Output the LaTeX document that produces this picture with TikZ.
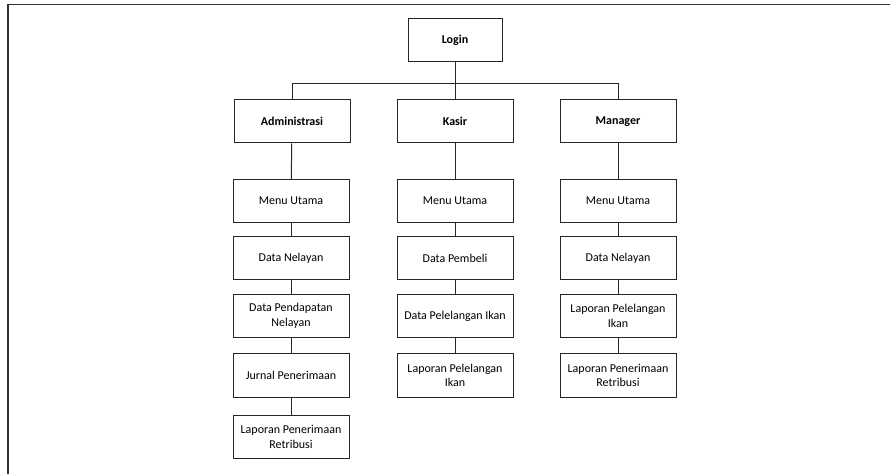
\documentclass[tikz,border=0pt]{standalone}
\usepackage{fontspec}
\setmainfont{Carlito}
\usetikzlibrary{positioning}

\begin{document}
\begin{tikzpicture}[
    x=0.75pt, y=0.75pt,
    every node/.style={font=\fontsize{9}{11}\selectfont},
    line width=0.75pt,
    menubox/.style={
        draw=black!85,
        minimum width=87pt,
        minimum height=32.25pt,
        align=center,
        inner sep=1pt
    },
    rolebox/.style={
        menubox,
        font=\fontsize{9}{11}\selectfont\bfseries
    },
    link/.style={draw=black!85}
]

\useasboundingbox (0,0) rectangle (890,-474);

% --- frame of the page ---
\draw[line width=1.1pt, black!80] (8,-474) -- (8,-4.5) -- (890,-4.5);

% --- login and roles ---
\node[rolebox, minimum width=70.5pt] (login) at (455,-40.5) {Login};
\node[rolebox] (admin) at (292,-121.5) {Administrasi};
\node[rolebox] (kasir) at (455,-121.5) {Kasir};
\node[rolebox] (manager) at (618,-121.5) {Manager};

\coordinate (bus) at (455,-83.5);
\draw[link] (login) -- (kasir);
\draw[link] (admin) |- (bus) -| (manager);

% --- kolom administrasi ---
\node[menubox] (adm1) at (291,-201) {Menu Utama};
\node[menubox] (adm2) at (291,-258.5) {Data Nelayan};
\node[menubox] (adm3) at (291,-316) {Data Pendapatan\\Nelayan};
\node[menubox] (adm4) at (291,-375.5) {Jurnal Penerimaan};
\node[menubox] (adm5) at (291,-437) {Laporan Penerimaan\\Retribusi};

\draw[link] (admin) -- (adm1);
\draw[link] (adm1) -- (adm2);
\draw[link] (adm2) -- (adm3);
\draw[link] (adm3) -- (adm4);
\draw[link] (adm4) -- (adm5);

% --- kolom kasir ---
\node[menubox] (ksr1) at (455,-201) {Menu Utama};
\node[menubox] (ksr2) at (455,-258.5) {Data Pembeli};
\node[menubox] (ksr3) at (455,-316) {Data Pelelangan Ikan};
\node[menubox] (ksr4) at (455,-375.5) {Laporan Pelelangan\\Ikan};

\draw[link] (kasir) -- (ksr1);
\draw[link] (ksr1) -- (ksr2);
\draw[link] (ksr2) -- (ksr3);
\draw[link] (ksr3) -- (ksr4);

% --- kolom manager ---
\node[menubox] (mgr1) at (618,-201) {Menu Utama};
\node[menubox] (mgr2) at (618,-258.5) {Data Nelayan};
\node[menubox] (mgr3) at (618,-316) {Laporan Pelelangan\\Ikan};
\node[menubox] (mgr4) at (618,-375.5) {Laporan Penerimaan\\Retribusi};

\draw[link] (manager) -- (mgr1);
\draw[link] (mgr1) -- (mgr2);
\draw[link] (mgr2) -- (mgr3);
\draw[link] (mgr3) -- (mgr4);

\end{tikzpicture}
\end{document}
